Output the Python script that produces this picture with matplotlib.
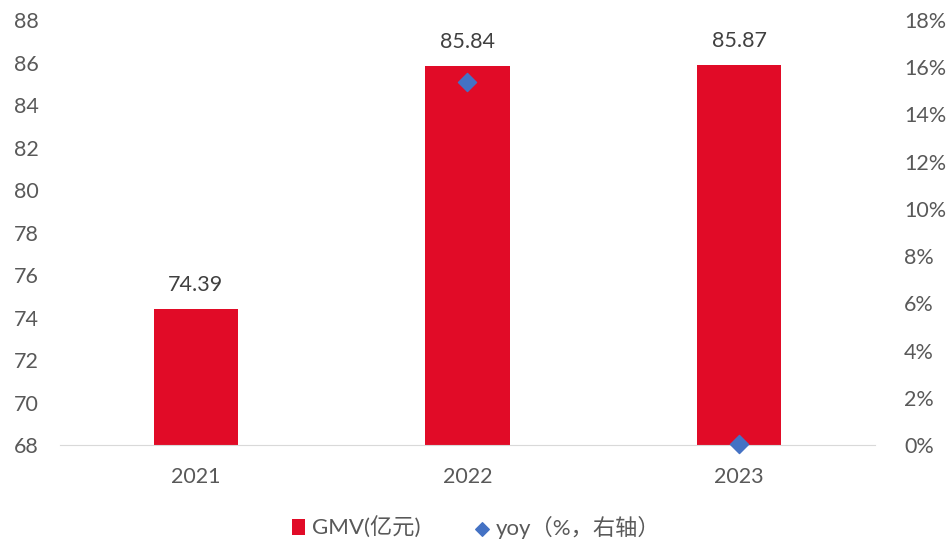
import matplotlib.pyplot as plt
import numpy as np

plt.rcParams['font.family'] = ['Lato', 'Noto Sans CJK SC', 'DejaVu Sans']

years = ['2021', '2022', '2023']
gmv = [74.39, 85.84, 85.87]
yoy = [None, 15.39, 0.03]

red = '#E10B27'
blue = '#4472C4'
grey = '#595959'

fig = plt.figure(figsize=(9.52, 5.41), dpi=100)
ax = fig.add_axes([60/952, 1 - 445/541, 815/952, 425/541])
ax2 = ax.twinx()

x = np.arange(len(years))
bars = ax.bar(x, gmv, width=0.31, color=red, label='GMV(亿元)', zorder=2)
ax.set_ylim(68, 88)
ax.set_yticks(np.arange(68, 89, 2))
ax.set_xlim(-0.5, 2.5)
ax.set_xticks(x)
ax.set_xticklabels(years)
for xi, v in zip(x, gmv):
    ax.text(xi, v + 0.65, f'{v:.2f}', ha='center', va='bottom', fontsize=15.5, color='#404040')

yx = [xi for xi, v in zip(x, yoy) if v is not None]
yv = [v for v in yoy if v is not None]
ax2.scatter(yx, yv, marker='D', s=85, color=blue, label='yoy（%，右轴）', zorder=3, clip_on=False)
ax2.set_ylim(0, 18)
ax2.set_yticks(np.arange(0, 19, 2))
ax2.set_yticklabels([f'{t}%' for t in range(0, 19, 2)])

for a in (ax, ax2):
    for s in a.spines.values():
        s.set_visible(False)
    a.tick_params(length=0, labelsize=15.5, colors=grey)
ax.spines['bottom'].set_visible(True)
ax.spines['bottom'].set_color('#D9D9D9')
ax.tick_params(axis='y', pad=15.5)
ax.tick_params(axis='x', pad=16)
ax2.tick_params(axis='y', pad=21)

h1, l1 = ax.get_legend_handles_labels()
h2, l2 = ax2.get_legend_handles_labels()
fig.legend(h1 + h2, l1 + l2, loc='center', bbox_to_anchor=(0.5, 1 - 527/541), ncol=2,
           frameon=False, fontsize=16, labelcolor=grey, handlelength=0.6, handletextpad=0.3,
           columnspacing=2.5, markerscale=0.75)

fig.savefig('out.png', dpi=100)
